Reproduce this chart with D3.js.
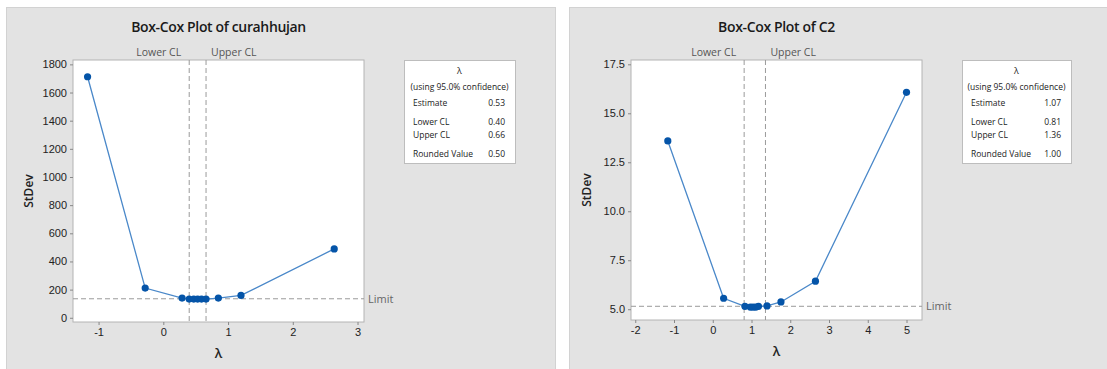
<!DOCTYPE html>
<html>
<head>
<meta charset="utf-8">
<script src="https://cdn.jsdelivr.net/npm/d3@7"></script>
<style>
  body { margin: 0; background: #fff; }
  svg { display: block; font-family: "Open Sans", "Noto Sans", sans-serif; }
  .tick text { fill: #222; font-size: 11px; }
  .tick line { stroke: #888; }
</style>
</head>
<body>
<svg id="chart" width="1107" height="369"></svg>
<script>
// left panel: curahhujan
const lambda1 = [-1.17, -0.28, 0.29, 0.40, 0.47, 0.53, 0.59, 0.66, 0.85, 1.20, 2.64];
const stdev1 = [1712, 211, 140, 133, 133, 133, 133, 133, 140, 159, 489];
const xTicks1 = [-1, 0, 1, 2, 3];
const yTicks1 = [0, 200, 400, 600, 800, 1000, 1200, 1400, 1600, 1800];
const limit1 = 135;
const ci1 = [0.40, 0.66];
const stats1 = [["Estimate", "0.53"], ["Lower CL", "0.40"], ["Upper CL", "0.66"], ["Rounded Value", "0.50"]];

// right panel: C2
const lambda2 = [-1.16, 0.28, 0.83, 0.97, 1.04, 1.11, 1.18, 1.40, 1.76, 2.65, 5.00];
const stdev2 = [13.59, 5.56, 5.15, 5.11, 5.11, 5.11, 5.15, 5.17, 5.37, 6.43, 16.07];
const xTicks2 = [-2, -1, 0, 1, 2, 3, 4, 5];
const yTicks2 = [5.0, 7.5, 10.0, 12.5, 15.0, 17.5];
const limit2 = 5.15;
const ci2 = [0.81, 1.36];
const stats2 = [["Estimate", "1.07"], ["Lower CL", "0.81"], ["Upper CL", "1.36"], ["Rounded Value", "1.00"]];

const svg = d3.select('#chart');

const drawPanel = (props) => {
    const {
        ox, panelW, title, xs, ys, xTicks, yTicks, xDomain, yDomain, yFormat,
        limit, ci, stats, plot, legend
    } = props;

    const g = svg.append('g').attr('transform', `translate(${ox},0)`);

    g.append('rect')
    .attr('x', 0.5).attr('y', 7.5)
    .attr('width', panelW).attr('height', 370)
    .attr('fill', '#e3e3e3')
    .attr('stroke', '#d2d2d2');

    const xScale = d3.scaleLinear().domain(xDomain).range([plot.x, plot.x + plot.w]);
    const yScale = d3.scaleLinear().domain(yDomain).range([plot.y + plot.h, plot.y]);

    g.append('rect')
    .attr('x', plot.x).attr('y', plot.y)
    .attr('width', plot.w).attr('height', plot.h)
    .attr('fill', '#fff')
    .attr('stroke', '#b4b4b4');

    const yAxisG = g.append('g')
    .attr('transform', `translate(${plot.x},0)`)
    .call(d3.axisLeft(yScale).tickValues(yTicks).tickSize(3).tickPadding(3).tickFormat(yFormat));
    yAxisG.select('.domain').remove();

    const xAxisG = g.append('g')
    .attr('transform', `translate(0,${plot.y + plot.h})`)
    .call(d3.axisBottom(xScale).tickValues(xTicks).tickSize(3).tickPadding(3).tickFormat(d => String(d)));
    xAxisG.select('.domain').remove();

    // title
    g.append('text')
    .attr('x', plot.x + plot.w / 2)
    .attr('y', 32)
    .attr('text-anchor', 'middle')
    .attr('font-size', 14)
    .attr('letter-spacing', -0.35)
    .attr('font-weight', 600)
    .attr('fill', '#1a1a1a')
    .text(title);

    // axis labels
    g.append('text')
    .attr('transform', `translate(${plot.x - 40},${plot.y + plot.h / 2}) rotate(-90)`)
    .attr('text-anchor', 'middle')
    .attr('font-size', 12)
    .attr('font-weight', 600)
    .attr('fill', '#222')
    .text('StDev');

    g.append('text')
    .attr('x', plot.x + plot.w / 2)
    .attr('y', plot.y + plot.h + 36)
    .attr('text-anchor', 'middle')
    .attr('font-size', 13)
    .attr('font-weight', 600)
    .attr('fill', '#222')
    .text('λ');

    // limit line
    g.append('line')
    .attr('x1', plot.x).attr('x2', plot.x + plot.w)
    .attr('y1', yScale(limit)).attr('y2', yScale(limit))
    .attr('stroke', '#9a9a9a')
    .attr('stroke-dasharray', '5,3');

    g.append('text')
    .attr('x', plot.x + plot.w + 4)
    .attr('y', yScale(limit) + 4)
    .attr('font-size', 11)
    .attr('fill', '#666')
    .text('Limit');

    // confidence lines
    g.selectAll('.ci').data(ci).enter().append('line')
    .attr('x1', d => xScale(d)).attr('x2', d => xScale(d))
    .attr('y1', plot.y).attr('y2', plot.y + plot.h)
    .attr('stroke', '#9a9a9a')
    .attr('stroke-dasharray', '5,3');

    g.append('text')
    .attr('x', xScale(ci[0]) - 8)
    .attr('y', plot.y - 4)
    .attr('text-anchor', 'end')
    .attr('font-size', 10.5)
    .attr('fill', '#555')
    .text('Lower CL');

    g.append('text')
    .attr('x', xScale(ci[1]) + 5)
    .attr('y', plot.y - 4)
    .attr('font-size', 10.5)
    .attr('fill', '#555')
    .text('Upper CL');

    const pts = xs.map((x, i) => ({ x, y: ys[i] }));

    g.append('path')
    .datum(pts)
    .attr('fill', 'none')
    .attr('stroke', '#4a88c9')
    .attr('stroke-width', 1.3)
    .attr('d', d3.line().x(d => xScale(d.x)).y(d => yScale(d.y)));

    g.selectAll('.pt').data(pts).enter().append('circle')
    .attr('cx', d => xScale(d.x))
    .attr('cy', d => yScale(d.y))
    .attr('r', 3.6)
    .attr('fill', '#0454a8');

    // legend box
    const lg = g.append('g').attr('transform', `translate(${legend.x},${legend.y})`);
    lg.append('rect')
    .attr('x', 0.5).attr('y', 0.5)
    .attr('width', legend.w).attr('height', 103)
    .attr('fill', '#fff')
    .attr('stroke', '#bdbdbd');

    lg.append('text')
    .attr('x', legend.w / 2).attr('y', 14)
    .attr('text-anchor', 'middle')
    .attr('font-size', 9)
    .attr('fill', '#222')
    .text('λ');

    lg.append('text')
    .attr('x', legend.w / 2).attr('y', 30)
    .attr('text-anchor', 'middle')
    .attr('font-size', 8.5)
    .attr('fill', '#222')
    .text('(using 95.0% confidence)');

    const rowY = [46, 65, 78, 97];
    stats.forEach((s, i) => {
        lg.append('text')
        .attr('x', 9).attr('y', rowY[i])
        .attr('font-size', 8.5)
        .attr('fill', '#222')
        .text(s[0]);
        lg.append('text')
        .attr('x', legend.w - 10).attr('y', rowY[i])
        .attr('text-anchor', 'end')
        .attr('font-size', 8.5)
        .attr('fill', '#222')
        .text(s[1]);
    });
};

drawPanel({
    ox: 6, panelW: 549,
    title: 'Box-Cox Plot of curahhujan',
    xs: lambda1, ys: stdev1,
    xTicks: xTicks1, yTicks: yTicks1,
    xDomain: [-1.395, 3.1], yDomain: [-30, 1831],
    yFormat: d3.format('d'),
    limit: limit1, ci: ci1, stats: stats1,
    plot: { x: 67, y: 60, w: 291, h: 262 },
    legend: { x: 398, y: 60, w: 111 }
});

drawPanel({
    ox: 569, panelW: 540,
    title: 'Box-Cox Plot of C2',
    xs: lambda2, ys: stdev2,
    xTicks: xTicks2, yTicks: yTicks2,
    xDomain: [-2.11, 5.40], yDomain: [4.45, 17.72],
    yFormat: d3.format('.1f'),
    limit: limit2, ci: ci2, stats: stats2,
    plot: { x: 62, y: 60, w: 291, h: 260 },
    legend: { x: 393, y: 60, w: 109 }
});
</script>
</body>
</html>
